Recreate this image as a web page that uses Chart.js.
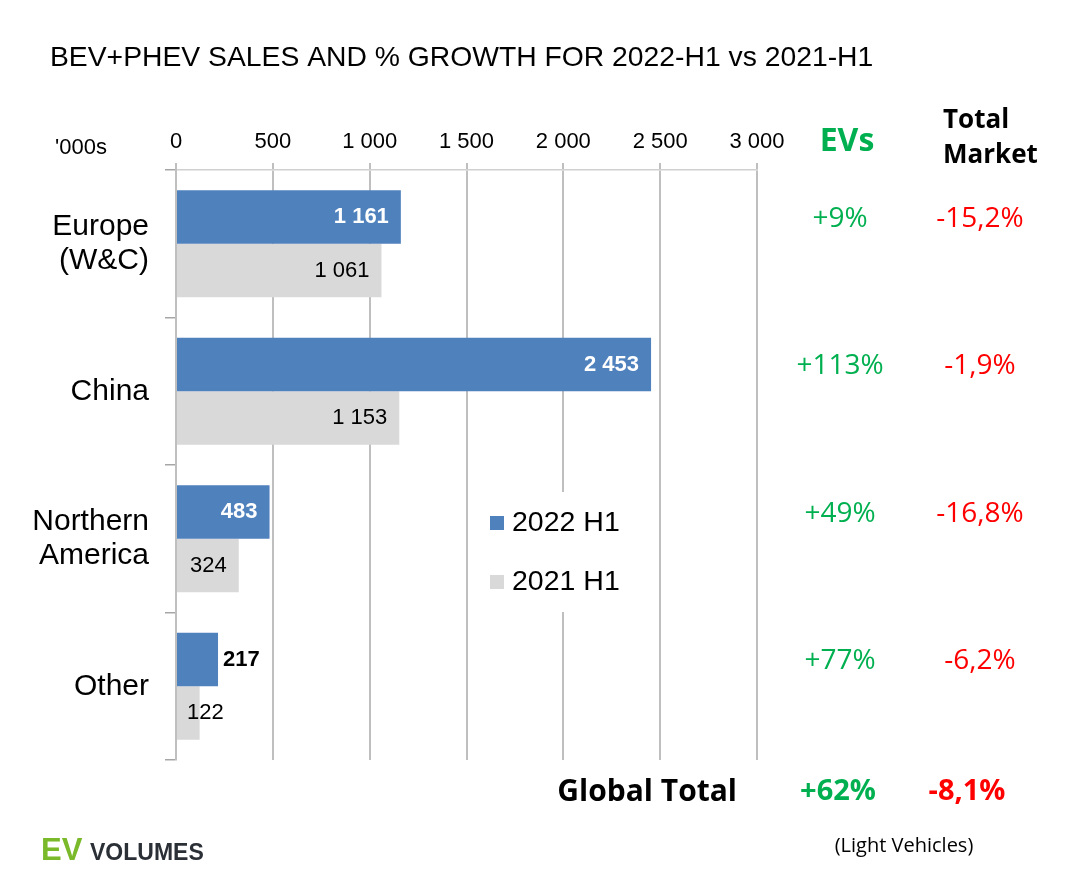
<!DOCTYPE html>
<html>
<head>
<meta charset="utf-8">
<title>BEV+PHEV sales and % growth</title>
<script src="https://cdn.jsdelivr.net/npm/chart.js@4"></script>
<style>
  html, body { margin: 0; background: #fff; }
  #wrap { width: 1080px; height: 872px; position: relative; }
</style>
</head>
<body>
<div id="wrap"><canvas id="evChart"></canvas></div>
<script>
const regions = [['Europe', '(W&C)'], 'China', ['Northern', 'America'], 'Other'];
const sales2022 = [1161, 2453, 483, 217];
const sales2021 = [1061, 1153, 324, 122];
const xTicks = [0, 500, 1000, 1500, 2000, 2500, 3000];
const evGrowth = ['+9%', '+113%', '+49%', '+77%'];
const marketGrowth = ['-15,2%', '-1,9%', '-16,8%', '-6,2%'];
const globalEv = '+62%';
const globalMarket = '-8,1%';

const ARIAL = "'Liberation Sans', Arial, sans-serif";
const CALIBRI = "'Open Sans', 'Noto Sans', sans-serif";
const GREEN = '#00B050';
const RED = '#FF0000';

// "1 161" style numbers, space as thousands separator
const fmt = v => String(v).replace(/\B(?=(\d{3})+(?!\d))/g, ' ');

Chart.defaults.font.family = ARIAL;
Chart.defaults.color = '#000';

/* value labels on the bars: inside at the end when they fit */
const barLabels = {
    id: 'barLabels',
    afterDatasetsDraw(chart) {
        const ctx = chart.ctx;
        ctx.save();
        ctx.textBaseline = 'middle';
        chart.data.datasets.forEach((ds, di) => {
            const meta = chart.getDatasetMeta(di);
            ctx.font = (di === 0 ? 'bold ' : '') + '22px ' + ARIAL;
            meta.data.forEach((bar, i) => {
                const txt = fmt(ds.data[i]);
                const w = ctx.measureText(txt).width;
                const len = bar.x - bar.base;
                if (w + 24 < len) {
                    ctx.fillStyle = di === 0 ? '#fff' : '#000';
                    ctx.textAlign = 'right';
                    ctx.fillText(txt, bar.x - 12, bar.y);
                } else if (di === 0) {
                    ctx.fillStyle = '#000';
                    ctx.textAlign = 'left';
                    ctx.fillText(txt, bar.x + 5, bar.y);
                } else {
                    ctx.fillStyle = '#000';
                    ctx.textAlign = 'left';
                    ctx.fillText(txt, bar.base + 10, bar.y);
                }
            });
        });
        ctx.restore();
    }
};

/* title, legend, growth columns and footer */
const extras = {
    id: 'extras',
    afterDraw(chart) {
        const ctx = chart.ctx;
        ctx.save();
        ctx.textBaseline = 'middle';

        ctx.fillStyle = '#000';
        ctx.textAlign = 'left';
        ctx.font = '28.3px ' + ARIAL;
        ctx.fillText('BEV+PHEV SALES AND % GROWTH FOR 2022-H1 vs 2021-H1', 50, 58);
        ctx.font = '22px ' + ARIAL;
        ctx.fillText("'000s", 55, 148);

        // legend box sits on top of the grid
        ctx.fillStyle = '#fff';
        ctx.fillRect(482, 492, 158, 120);
        chart.data.datasets.forEach((ds, i) => {
            const y = 523 + i * 59;
            ctx.fillStyle = ds.backgroundColor;
            ctx.fillRect(490, y - 7, 14, 14);
            ctx.fillStyle = '#000';
            ctx.font = '28.5px ' + ARIAL;
            ctx.fillText(ds.label, 512, y);
        });

        // column heads
        ctx.textAlign = 'center';
        ctx.fillStyle = GREEN;
        ctx.font = 'bold 32px ' + CALIBRI;
        ctx.fillText('EVs', 847, 142);
        ctx.textAlign = 'left';
        ctx.fillStyle = '#000';
        ctx.font = 'bold 26px ' + CALIBRI;
        ctx.fillText('Total', 943, 121);
        ctx.fillText('Market', 943, 156);

        // growth per region, level with the 2022 bar
        const meta = chart.getDatasetMeta(0);
        ctx.textAlign = 'center';
        ctx.font = '28px ' + CALIBRI;
        meta.data.forEach((bar, i) => {
            ctx.fillStyle = GREEN;
            ctx.fillText(evGrowth[i], 840, bar.y + 2);
            ctx.fillStyle = RED;
            ctx.fillText(marketGrowth[i], 980, bar.y + 2);
        });

        ctx.font = 'bold 30px ' + CALIBRI;
        ctx.textAlign = 'right';
        ctx.fillStyle = '#000';
        ctx.fillText('Global Total', 737, 792);
        ctx.textAlign = 'center';
        ctx.font = 'bold 29px ' + CALIBRI;
        ctx.fillStyle = GREEN;
        ctx.fillText(globalEv, 838, 792);
        ctx.fillStyle = RED;
        ctx.fillText(globalMarket, 967, 792);

        ctx.fillStyle = '#000';
        ctx.font = '20px ' + CALIBRI;
        ctx.fillText('(Light Vehicles)', 904, 846);

        // logo
        ctx.textAlign = 'left';
        ctx.textBaseline = 'alphabetic';
        ctx.fillStyle = '#7AB929';
        ctx.font = 'bold 31px ' + ARIAL;
        ctx.fillText('EV', 41, 860);
        ctx.fillStyle = '#2B2F36';
        ctx.font = 'bold 23px ' + ARIAL;
        ctx.fillText('VOLUMES', 90, 860);
        ctx.restore();
    }
};

const data = {
    labels: regions,
    datasets: [{
        label: '2022 H1',
        data: sales2022,
        backgroundColor: '#4F81BD',
        categoryPercentage: 0.725,
        barPercentage: 1.0
    }, {
        label: '2021 H1',
        data: sales2021,
        backgroundColor: '#D9D9D9',
        categoryPercentage: 0.725,
        barPercentage: 1.0
    }]
};

const config = {
    type: 'bar',
    data,
    options: {
        indexAxis: 'y',
        responsive: true,
        maintainAspectRatio: false,
        animation: false,
        layout: {
            padding: { top: 100, left: 0, right: 323, bottom: 112 }
        },
        scales: {
            x: {
                position: 'top',
                min: 0,
                max: 3000,
                afterBuildTicks: s => { s.ticks = xTicks.map(v => ({ value: v })); },
                afterFit: s => { s.height = 70; },
                ticks: {
                    callback: v => fmt(v),
                    font: { size: 22 },
                    color: '#000',
                    padding: 8
                },
                grid: {
                    color: '#BFBFBF',
                    lineWidth: 2,
                    tickLength: 7
                },
                border: { display: true, color: '#D0D0D0', width: 1.5 }
            },
            y: {
                afterFit: s => { s.width = 176; },
                ticks: {
                    font: { size: 30, lineHeight: 1.14 },
                    color: '#000',
                    padding: 16
                },
                grid: {
                    drawOnChartArea: false,
                    color: '#A6A6A6',
                    lineWidth: 1.5,
                    tickLength: 11
                },
                border: { display: true, color: '#BFBFBF', width: 2 }
            }
        },
        plugins: {
            legend: { display: false },
            tooltip: { enabled: false }
        }
    },
    plugins: [barLabels, extras]
};

/* Generate the chart */
var evChart = new Chart(document.getElementById('evChart'), config);
</script>
</body>
</html>
